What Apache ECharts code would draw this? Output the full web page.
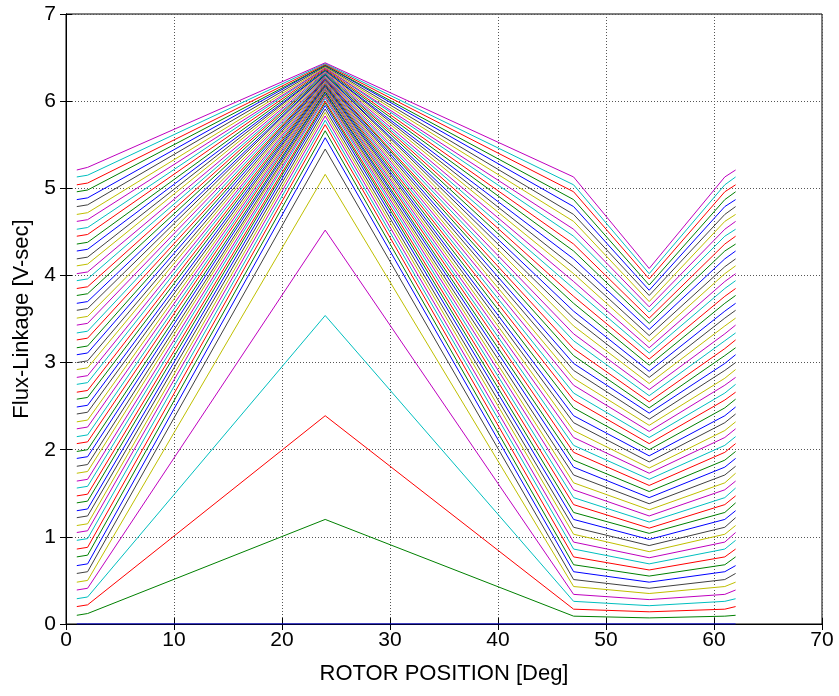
<!DOCTYPE html>
<html>
<head>
<meta charset="utf-8">
<script src="https://cdn.jsdelivr.net/npm/echarts@6/dist/echarts.min.js"></script>
<style>
html,body{margin:0;padding:0;background:#fff;}
#chart{width:839px;height:696px;}
</style>
</head>
<body>
<div id="chart"></div>
<script>
// Rotor positions (deg) where each curve's values were read
const xPoints = [1, 2, 24, 47, 54, 61, 62];

// Flux-linkage (V-sec) per curve (61 currents, lowest first), read at each position
const lamEdge = [0, 0.10, 0.20, 0.29, 0.39, 0.48, 0.58, 0.67, 0.77, 0.86, 0.96, 1.05, 1.13, 1.22, 1.30, 1.39, 1.47, 1.56, 1.64, 1.73, 1.81, 1.90, 1.98, 2.07, 2.15, 2.24, 2.32, 2.41, 2.49, 2.58, 2.66, 2.75, 2.83, 2.92, 3.00, 3.09, 3.17, 3.26, 3.34, 3.43, 3.51, 3.60, 3.68, 3.77, 3.85, 3.94, 4.02, 4.11, 4.19, 4.28, 4.36, 4.45, 4.53, 4.62, 4.70, 4.79, 4.87, 4.96, 5.04, 5.13, 5.21];
const lamX2 = [0, 0.12, 0.22, 0.31, 0.41, 0.50, 0.60, 0.69, 0.79, 0.88, 0.98, 1.07, 1.15, 1.24, 1.32, 1.41, 1.49, 1.58, 1.66, 1.75, 1.83, 1.92, 2.00, 2.09, 2.17, 2.26, 2.34, 2.43, 2.51, 2.60, 2.68, 2.77, 2.85, 2.94, 3.02, 3.11, 3.19, 3.28, 3.36, 3.45, 3.53, 3.62, 3.70, 3.79, 3.87, 3.96, 4.04, 4.13, 4.21, 4.30, 4.38, 4.47, 4.55, 4.64, 4.72, 4.81, 4.89, 4.98, 5.06, 5.15, 5.24];
const lamPeak = [0, 1.20, 2.39, 3.54, 4.52, 5.16, 5.45, 5.58, 5.66, 5.73, 5.78, 5.83, 5.87, 5.91, 5.95, 5.98, 6.00, 6.03, 6.05, 6.07, 6.08, 6.10, 6.11, 6.13, 6.14, 6.15, 6.16, 6.17, 6.18, 6.19, 6.20, 6.21, 6.22, 6.23, 6.24, 6.25, 6.26, 6.26, 6.27, 6.28, 6.29, 6.30, 6.30, 6.31, 6.32, 6.32, 6.33, 6.34, 6.35, 6.35, 6.36, 6.37, 6.38, 6.38, 6.39, 6.40, 6.41, 6.41, 6.42, 6.43, 6.44];
const lamKnee = [0, 0.09, 0.17, 0.26, 0.34, 0.43, 0.51, 0.60, 0.68, 0.77, 0.86, 0.94, 1.03, 1.11, 1.20, 1.28, 1.37, 1.45, 1.54, 1.62, 1.71, 1.80, 1.88, 1.97, 2.05, 2.14, 2.22, 2.31, 2.39, 2.48, 2.57, 2.65, 2.74, 2.82, 2.91, 2.99, 3.08, 3.16, 3.25, 3.33, 3.42, 3.51, 3.59, 3.68, 3.76, 3.85, 3.93, 4.02, 4.10, 4.19, 4.28, 4.36, 4.45, 4.53, 4.62, 4.70, 4.79, 4.87, 4.96, 5.04, 5.13];
const lamValley = [0, 0.07, 0.14, 0.21, 0.28, 0.35, 0.41, 0.48, 0.55, 0.62, 0.69, 0.76, 0.83, 0.90, 0.97, 1.04, 1.10, 1.17, 1.24, 1.31, 1.38, 1.45, 1.52, 1.59, 1.66, 1.73, 1.79, 1.86, 1.93, 2.00, 2.07, 2.14, 2.21, 2.28, 2.35, 2.42, 2.48, 2.55, 2.62, 2.69, 2.76, 2.83, 2.90, 2.97, 3.04, 3.11, 3.17, 3.24, 3.31, 3.38, 3.45, 3.51, 3.58, 3.64, 3.70, 3.77, 3.83, 3.89, 3.96, 4.02, 4.08];

const xTicks = [0, 10, 20, 30, 40, 50, 60, 70];
const yTicks = [0, 1, 2, 3, 4, 5, 6, 7];
const lineColors = ['#0000FF', '#008000', '#FF0000', '#00BFBF', '#BF00BF', '#BFBF00', '#404040'];

const columns = [lamEdge, lamX2, lamPeak, lamKnee, lamValley, lamKnee, lamEdge];
const series = [];
for (let k = 0; k < lamEdge.length; k++) {
  series.push({
    type: 'line',
    name: 'I' + k,
    showSymbol: false,
    symbol: 'none',
    silent: true,
    data: xPoints.map((x, j) => [x, columns[j][k]]),
    lineStyle: { width: 1, color: lineColors[k % lineColors.length] },
    itemStyle: { color: lineColors[k % lineColors.length] }
  });
}

const font = 'Liberation Sans, Arial, Helvetica, sans-serif';
const chart = echarts.init(document.getElementById('chart'), null, { renderer: 'canvas' });
chart.setOption({
  animation: false,
  backgroundColor: '#fff',
  grid: { left: 66, right: 17, top: 14, bottom: 72, show: true, borderColor: '#000', borderWidth: 1, backgroundColor: 'transparent' },
  xAxis: [{
    type: 'value', min: xTicks[0], max: xTicks[xTicks.length - 1], interval: 10,
    name: 'ROTOR POSITION [Deg]', nameLocation: 'middle', nameGap: 39,
    nameTextStyle: { fontFamily: font, fontSize: 22, color: '#000' },
    axisLine: { show: true, lineStyle: { color: '#000', width: 1 } },
    axisTick: { show: true, inside: true, length: 6, lineStyle: { color: '#000' } },
    axisLabel: { fontFamily: font, fontSize: 21, color: '#000', margin: 6 },
    splitLine: { show: true, lineStyle: { color: '#555', type: [1, 2], width: 1 } }
  }, {
    type: 'value', position: 'top', min: 0, max: 70, interval: 10,
    axisLine: { show: true, lineStyle: { color: '#000' } },
    axisTick: { show: true, inside: true, length: 6, lineStyle: { color: '#000' } },
    axisLabel: { show: false }, splitLine: { show: false }
  }],
  yAxis: [{
    type: 'value', min: yTicks[0], max: yTicks[yTicks.length - 1], interval: 1,
    name: 'Flux-Linkage [V-sec]', nameLocation: 'middle', nameGap: 33, nameRotate: 90,
    nameTextStyle: { fontFamily: font, fontSize: 22, color: '#000' },
    axisLine: { show: true, lineStyle: { color: '#000', width: 1 } },
    axisTick: { show: true, inside: true, length: 6, lineStyle: { color: '#000' } },
    axisLabel: { fontFamily: font, fontSize: 21, color: '#000', margin: 10 },
    splitLine: { show: true, lineStyle: { color: '#555', type: [1, 2], width: 1 } }
  }, {
    type: 'value', position: 'right', min: 0, max: 7, interval: 1,
    axisLine: { show: true, lineStyle: { color: '#000' } },
    axisTick: { show: true, inside: true, length: 6, lineStyle: { color: '#000' } },
    axisLabel: { show: false }, splitLine: { show: false }
  }],
  series: series
});
</script>
</body>
</html>
